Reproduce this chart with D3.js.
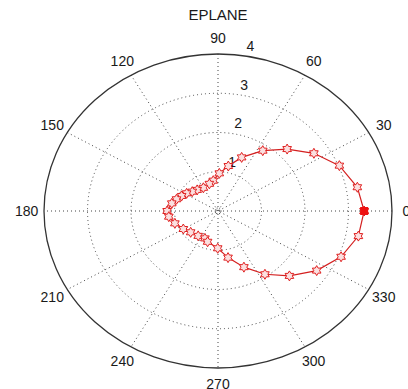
<!DOCTYPE html>
<html>
<head>
<meta charset="utf-8">
<script src="https://cdn.jsdelivr.net/npm/d3@7"></script>
<style>
body{margin:0;background:#fff;}
text{font-family:"Liberation Sans",Arial,sans-serif;fill:#1a1a1a;}
</style>
</head>
<body>
<svg width="408" height="389"></svg>
<script>
// angles (deg) and gain values
var angles=[0,10.7,22.5,33.7,44.8,56.2,68.3,78.3,88.2,98,106,119.6,131.7,140.2,148,155.4,162.6,169.6,180,
            187.3,197.6,209.9,220.8,234.3,246.7,253,269.6,281,292.6,303.8,314.8,326.2,337.6,348.8,360]
var gains=[3.36,3.26,3.02,2.65,2.24,1.85,1.47,1.17,0.96,0.78,0.72,0.68,0.72,0.77,0.85,0.92,1.0,1.08,1.17,
           1.14,1.04,0.92,0.83,0.78,0.76,0.82,0.95,1.21,1.55,1.94,2.33,2.73,3.06,3.29,3.36]
var ringVals=[1,2,3,4]
var spokeAngles=[0,30,60,90,120,150,180,210,240,270,300,330]
var title="EPLANE"

var cx=218,cy=211,rx=174,ry=157,rmax=4

var xScale=d3.scaleLinear().domain([-rmax,rmax]).range([cx-rx,cx+rx])
var yScale=d3.scaleLinear().domain([-rmax,rmax]).range([cy+ry,cy-ry])
var rad=function(a){return a*Math.PI/180}

var svg=d3.select("svg")

svg.append("text")
   .attr("x",cx).attr("y",20)
   .attr("text-anchor","middle")
   .attr("font-size",15)
   .text(title)

var grid=svg.append("g")

// dotted spokes across the whole circle
grid.selectAll("line")
    .data(spokeAngles.filter(function(a){return a<180}))
    .enter()
    .append("line")
    .attr("x1",function(a){return xScale(rmax*Math.cos(rad(a)))})
    .attr("y1",function(a){return yScale(rmax*Math.sin(rad(a)))})
    .attr("x2",function(a){return xScale(-rmax*Math.cos(rad(a)))})
    .attr("y2",function(a){return yScale(-rmax*Math.sin(rad(a)))})
    .attr("stroke","#444")
    .attr("stroke-width",1)
    .attr("stroke-dasharray","1,3")

grid.selectAll("ellipse")
    .data(ringVals)
    .enter()
    .append("ellipse")
    .attr("cx",cx).attr("cy",cy)
    .attr("rx",function(d){return xScale(d)-cx})
    .attr("ry",function(d){return cy-yScale(d)})
    .attr("fill","none")
    .attr("stroke",function(d){return d==rmax?"#333":"#444"})
    .attr("stroke-width",function(d){return d==rmax?1.3:1})
    .attr("stroke-dasharray",function(d){return d==rmax?null:"1,3"})

grid.append("circle")
    .attr("cx",cx).attr("cy",cy).attr("r",3)
    .attr("fill","none").attr("stroke","#555")
    .attr("stroke-dasharray","1,1.5")

// radial labels at 82 degrees
svg.selectAll(".rlab")
   .data(ringVals)
   .enter()
   .append("text")
   .attr("class","rlab")
   .attr("x",function(d){return xScale((d+0.2)*Math.cos(rad(82)))+3})
   .attr("y",function(d){return yScale((d+0.2)*Math.sin(rad(82)))+3})
   .attr("font-size",14)
   .text(function(d){return d})

// angle labels
svg.selectAll(".alab")
   .data(spokeAngles)
   .enter()
   .append("text")
   .attr("class","alab")
   .attr("x",function(a){return xScale(1.1*rmax*Math.cos(rad(a)))-(a==0?3:0)})
   .attr("y",function(a){return yScale(1.1*rmax*Math.sin(rad(a)))+5})
   .attr("text-anchor","middle")
   .attr("font-size",14)
   .text(function(a){return a})

var pts=angles.map(function(a,i){return [xScale(gains[i]*Math.cos(rad(a))),yScale(gains[i]*Math.sin(rad(a)))]})

svg.append("path")
   .attr("d",d3.line()(pts))
   .attr("fill","none")
   .attr("stroke","#d42020")
   .attr("stroke-width",1.2)

var hexagram=function(s){
  var p=[]
  for(var k=0;k<12;k++){
    var r=k%2==0?s:s*0.58
    var t=Math.PI/2+k*Math.PI/6
    p.push([r*Math.cos(t),-r*Math.sin(t)])
  }
  return "M"+p.join("L")+"Z"
}

svg.selectAll(".mk")
   .data(pts)
   .enter()
   .append("path")
   .attr("class","mk")
   .attr("transform",function(d){return "translate("+d[0]+","+d[1]+")"})
   .attr("d",hexagram(5))
   .attr("fill","#fbe0e0")
   .attr("stroke","#e02020")
   .attr("stroke-width",1)

svg.append("rect")
   .attr("x",pts[0][0]-4).attr("y",pts[0][1]-4)
   .attr("width",8).attr("height",8)
   .attr("fill","#ee1111")
</script>
</body>
</html>
